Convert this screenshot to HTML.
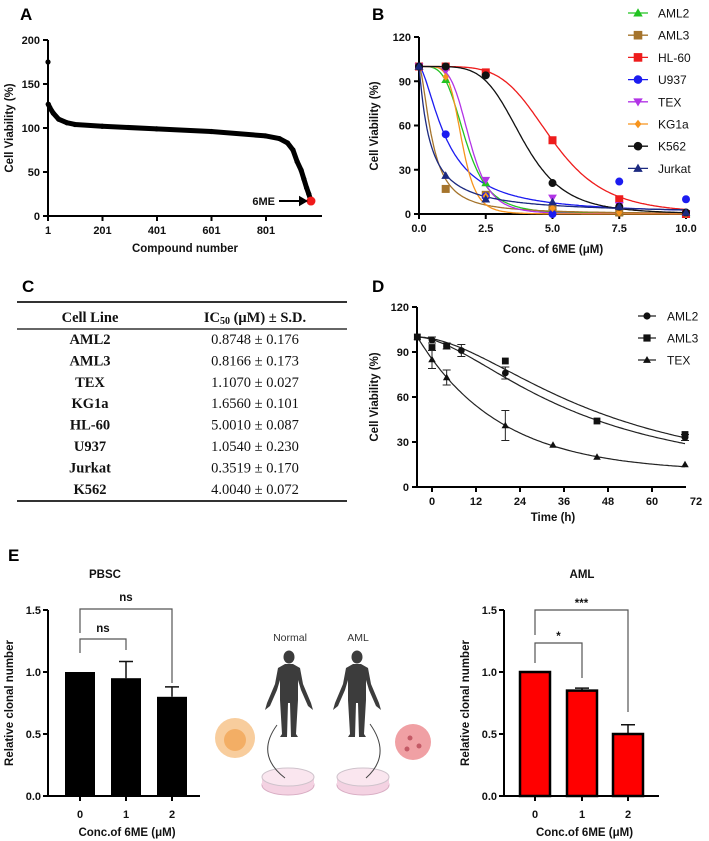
<!DOCTYPE html>
<html><head><meta charset="utf-8"><style>
html,body{margin:0;padding:0;background:#fff;}
svg{display:block;font-family:"Liberation Sans",Arial,sans-serif;}
.tk{font-size:11px;font-weight:bold;fill:#111;}
.ti{font-size:11.5px;font-weight:bold;fill:#111;}
.pl{font-size:17px;font-weight:bold;fill:#000;}
.tb{font-family:"Liberation Serif",serif;font-size:14.5px;fill:#111;}
.lg{font-size:12px;fill:#111;}
</style></head><body>
<svg id="fig" width="709" height="841" viewBox="0 0 709 841" xmlns="http://www.w3.org/2000/svg">
<g id="pA"></g>
<g id="pB"></g>
<g id="pC">
<text class="pl" x="22" y="292">C</text>
<line x1="17" y1="302" x2="347" y2="302" stroke="#333" stroke-width="2"/>
<line x1="17" y1="329" x2="347" y2="329" stroke="#333" stroke-width="1.5"/>
<line x1="17" y1="501" x2="347" y2="501" stroke="#333" stroke-width="2"/>
<text class="tb" x="90" y="322" text-anchor="middle" font-weight="bold" font-size="16">Cell Line</text>
<text class="tb" x="255" y="322" text-anchor="middle" font-weight="bold" font-size="16">IC<tspan font-size="10" dy="2">50</tspan><tspan dy="-2"> (μM) ± S.D.</tspan></text>
</g>
<g id="pD"></g>
<g id="pE"></g>
</svg>
<script>
// ---------- Panel A data ----------
const aIdx = [1,2,8,20,40,70,100,200,400,600,800,850,880,900,915,930,940,950,958,963];
const aVal = [175,127,123,117,110,106,104,102,99,96,91,88,83,75,62,52,42,32,25,20];
const aHitIdx = [966];
const aHitVal = [17];
const aYTicks = [0,50,100,150,200];
const aXTicks = [1,201,401,601,801];
// ---------- Panel B data ----------
const bNames = ["AML2","AML3","HL-60","U937","TEX","KG1a","K562","Jurkat"];
const bColors = ["#22c322","#a5742c","#ee1c1c","#1c1cf0","#b234e6","#f7941d","#111111","#1c2a80"];
const bShapes = ["tri","sq","sq","circ","dtri","dia","circ","tri"];
const bConc = [0,1,2.5,5,7.5,10];
const bAML2 = [100,91,21,5,1,0];
const bAML3 = [100,17,13,4,1,0];
const bHL60 = [100,100,96,50,10,0];
const bU937 = [100,54,12,0,22,10];
const bTEX = [100,97,23,11,6,0];
const bKG1a = [100,93,12,4,1,0];
const bK562 = [100,100,94,21,5,1];
const bJurkat = [100,26,10,8,5,1];
const bIC50fit = [1.75,0.5,5.0,1.05,1.9,1.6,3.9,0.4];
const bHill = [4,1.7,5,1.6,5,6,5,1.1];
const bYTicks = [0,30,60,90,120];
const bXTicks = [0,2.5,5,7.5,10];
// ---------- Panel C data ----------
const cLines = ["AML2","AML3","TEX","KG1a","HL-60","U937","Jurkat","K562"];
const cIC50 = ["0.8748","0.8166","1.1070","1.6560","5.0010","1.0540","0.3519","4.0040"];
const cSD = ["0.176","0.173","0.027","0.101","0.087","0.230","0.170","0.072"];
// ---------- Panel D data ----------
const dNames = ["AML2","AML3","TEX"];
const dTime = [-4,0,4,8,20,33,45,69];
const dAML2 = [100,98,94,91,76,null,null,33];
const dAML3 = [100,93,94,null,84,null,44,35];
const dTEX = [100,85,73,null,41,28,20,15];
const dErr2 = [0,2,2,4,4,0,0,2];
const dErrT = [0,6,5,0,10,0,0,0];
const dT50 = [43,49,null];
const dHill = [1.7,1.8,null];
const dPlateauTEX = [10];
const dRateTEX = [0.0444];
const dYTicks = [0,30,60,90,120];
const dXTicks = [0,12,24,36,48,60,72];
// ---------- Panel E data ----------
const eCats = ["0","1","2"];
const ePBSC = [1.0,0.95,0.80];
const ePBSCerr = [0,0.135,0.08];
const eAML = [1.0,0.85,0.50];
const eAMLerr = [0,0.02,0.075];
const eYTicks = ["0.0","0.5","1.0","1.5"];

const NS="http://www.w3.org/2000/svg";
function mk(parent, tag, attrs, txt){
  const e=document.createElementNS(NS,tag);
  for(const k in attrs) e.setAttribute(k,attrs[k]);
  if(txt!==undefined) e.textContent=txt;
  parent.appendChild(e); return e;
}

// ================= Panel A =================
(function(){
  const g=document.getElementById('pA');
  const x0=48,y0=216,xPer=54.5/200,yPer=176/200;
  const sx=v=>x0+(v-1)*xPer, sy=v=>y0-v*yPer;
  let t=mk(g,'text',{class:'pl',x:20,y:20},'A');
   
  let ax=mk(g,'path',{d:`M${x0},${sy(200)} V${y0} H322`,stroke:'#000','stroke-width':2,fill:'none'});
   
  aYTicks.forEach(v=>{mk(g,'line',{x1:x0-5,x2:x0,y1:sy(v),y2:sy(v),stroke:'#000','stroke-width':2});
    const l=mk(g,'text',{class:'tk',x:x0-8,y:sy(v)+4,'text-anchor':'end'},v);
     });
  aXTicks.forEach(v=>{mk(g,'line',{x1:sx(v),x2:sx(v),y1:y0,y2:y0+5,stroke:'#000','stroke-width':2});
    const l=mk(g,'text',{class:'tk',x:sx(v),y:y0+18,'text-anchor':'middle'},v);
     });
  let xt=mk(g,'text',{class:'ti',x:185,y:252,'text-anchor':'middle'},'Compound number');
   
  let yt=mk(g,'text',{class:'ti',transform:'translate(13,128) rotate(-90)','text-anchor':'middle'},'Cell Viability (%)');
   
  let pts=aIdx.slice(1).map((v,i)=>`${sx(v)},${sy(aVal[i+1])}`).join(' ');
  let pl=mk(g,'polyline',{points:pts,fill:'none',stroke:'#000','stroke-width':5,'stroke-linejoin':'round','stroke-linecap':'round'});
   
  aIdx.forEach((v,i)=>{const c=mk(g,'circle',{cx:sx(v),cy:sy(aVal[i]),r:2.6,fill:'#000'});
     });
  let hit=mk(g,'circle',{cx:sx(aHitIdx[0]),cy:sy(aHitVal[0]),r:4.5,fill:'#f01a1a'});
   
  let ar=mk(g,'path',{d:`M279,${sy(aHitVal[0])} H300 M300,${sy(aHitVal[0])-3.5} L306,${sy(aHitVal[0])} L300,${sy(aHitVal[0])+3.5} Z`,stroke:'#000','stroke-width':2,fill:'#000'});
   
  let al=mk(g,'text',{class:'tk',x:275,y:sy(aHitVal[0])+4,'text-anchor':'end'},'6ME');
   
})();

function marker(g,shape,x,y,s,col){
  let e;
  if(shape==='sq') e=mk(g,'rect',{x:x-s,y:y-s,width:2*s,height:2*s,fill:col});
  else if(shape==='circ') e=mk(g,'circle',{cx:x,cy:y,r:s,fill:col});
  else if(shape==='tri') e=mk(g,'path',{d:`M${x},${y-s*1.1} L${x+s*1.1},${y+s*0.8} L${x-s*1.1},${y+s*0.8}Z`,fill:col});
  else if(shape==='dtri') e=mk(g,'path',{d:`M${x},${y+s*1.1} L${x+s*1.1},${y-s*0.8} L${x-s*1.1},${y-s*0.8}Z`,fill:col});
  else e=mk(g,'path',{d:`M${x},${y-s} L${x+s*0.8},${y} L${x},${y+s} L${x-s*0.8},${y}Z`,fill:col});
  return e;
}

// ================= Panel B =================
(function(){
  const g=document.getElementById('pB');
  const x0=419,y0=214,xPer=26.7,yPer=177/120;
  const sx=v=>x0+v*xPer, sy=v=>y0-v*yPer;
  let t=mk(g,'text',{class:'pl',x:372,y:20},'B');
   
  let ax=mk(g,'path',{d:`M${x0},${sy(120)} V${y0} H${sx(10)+2}`,stroke:'#000','stroke-width':2,fill:'none'});
   
  bYTicks.forEach(v=>{mk(g,'line',{x1:x0-5,x2:x0,y1:sy(v),y2:sy(v),stroke:'#000','stroke-width':2});
    const l=mk(g,'text',{class:'tk',x:x0-8,y:sy(v)+4,'text-anchor':'end'},v);
     });
  bXTicks.forEach(v=>{mk(g,'line',{x1:sx(v),x2:sx(v),y1:y0,y2:y0+5,stroke:'#000','stroke-width':2});
    const l=mk(g,'text',{class:'tk',x:sx(v),y:y0+18,'text-anchor':'middle'},v.toFixed(1));
     });
  let xt=mk(g,'text',{class:'ti',x:553,y:253,'text-anchor':'middle'},'Conc. of 6ME (μM)');
   
  let yt=mk(g,'text',{class:'ti',transform:'translate(378,126) rotate(-90)','text-anchor':'middle'},'Cell Viability (%)');
   
  const series=[bAML2,bAML3,bHL60,bU937,bTEX,bKG1a,bK562,bJurkat];
  series.forEach((vals,si)=>{
    let d='';
    for(let i=0;i<=200;i++){const c=10*i/200; const v=100/(1+Math.pow(c/bIC50fit[si],bHill[si]));
      d+=(i?'L':'M')+sx(c).toFixed(1)+','+sy(v).toFixed(1);}
    const p=mk(g,'path',{d:d,fill:'none',stroke:bColors[si],'stroke-width':1.3});
    
    
  });
  series.forEach((vals,si)=>{
    vals.forEach((v,i)=>{
      const m=marker(g,bShapes[si],sx(bConc[i]),sy(v),4,bColors[si]);
      
      
    });
  });
  bNames.forEach((n,i)=>{
    const y=13+i*22.2;
    const lg=mk(g,'g',{});
    
    
    mk(lg,'line',{x1:628,x2:648,y1:y,y2:y,stroke:bColors[i],'stroke-width':1.3});
    marker(lg,bShapes[i],638,y,4.3,bColors[i]);
    mk(lg,'text',{class:'lg',x:658,y:y+4.5},n);
  });
})();

// ================= Panel C rows =================
(function(){
  const g=document.getElementById('pC');
  cLines.forEach((n,i)=>{
    const y=344+i*21.4;
    const r=mk(g,'g',{});
    
    
    mk(r,'text',{class:'tb',x:90,y:y,'text-anchor':'middle','font-weight':'bold'},n);
    mk(r,'text',{class:'tb',x:255,y:y,'text-anchor':'middle'},cIC50[i]+' ± '+cSD[i]);
  });
})();

// ================= Panel D =================
(function(){
  const g=document.getElementById('pD');
  const x0=417,y0=487,xPer=44/12,yPer=180/120,tz=432;
  const sx=v=>tz+v*xPer, sy=v=>y0-v*yPer;
  let t=mk(g,'text',{class:'pl',x:372,y:292},'D');
   
  let ax=mk(g,'path',{d:`M${x0},${sy(120)} V${y0} H${sx(69)+1}`,stroke:'#000','stroke-width':2,fill:'none'});
   
  dYTicks.forEach(v=>{mk(g,'line',{x1:x0-5,x2:x0,y1:sy(v),y2:sy(v),stroke:'#000','stroke-width':2});
    const l=mk(g,'text',{class:'tk',x:x0-8,y:sy(v)+4,'text-anchor':'end'},v);
     });
  dXTicks.forEach(v=>{ if(v<=69) mk(g,'line',{x1:sx(v),x2:sx(v),y1:y0,y2:y0+5,stroke:'#000','stroke-width':2});
    const l=mk(g,'text',{class:'tk',x:sx(v),y:y0+18,'text-anchor':'middle'},v);
     });
  let xt=mk(g,'text',{class:'ti',x:553,y:521,'text-anchor':'middle'},'Time (h)');
   
  let yt=mk(g,'text',{class:'ti',transform:'translate(378,397) rotate(-90)','text-anchor':'middle'},'Cell Viability (%)');
   
  const fits=[
    tt=>100/(1+Math.pow((tt+4)/dT50[0],dHill[0])),
    tt=>100/(1+Math.pow((tt+4)/dT50[1],dHill[1])),
    tt=>dPlateauTEX[0]+(100-dPlateauTEX[0])*Math.exp(-dRateTEX[0]*(tt+4))
  ];
  fits.forEach((f,si)=>{let d='';
    for(let i=0;i<=150;i++){const tt=-4+73*i/150; d+=(i?'L':'M')+sx(tt).toFixed(1)+','+sy(f(tt)).toFixed(1);}
    const p=mk(g,'path',{d:d,fill:'none',stroke:'#222','stroke-width':1.2});
     });
  const ser=[dAML2,dAML3,dTEX], shp=['circ','sq','tri'], errs=[dErr2,null,dErrT];
  ser.forEach((vals,si)=>vals.forEach((v,i)=>{ if(v===null) return;
    const e=errs[si]?errs[si][i]:0;
    if(e>0){mk(g,'path',{d:`M${sx(dTime[i])},${sy(v-e)}V${sy(v+e)} M${sx(dTime[i])-4},${sy(v-e)}h8 M${sx(dTime[i])-4},${sy(v+e)}h8`,stroke:'#222','stroke-width':1,fill:'none'});}
    const m=marker(g,shp[si],sx(dTime[i]),sy(v),3.4,'#111');
     }));
  dNames.forEach((n,i)=>{const y=316+i*22;
    const lg=mk(g,'g',{});
    
    
    mk(lg,'line',{x1:638,x2:656,y1:y,y2:y,stroke:'#222','stroke-width':1.3});
    marker(lg,shp[i],647,y,3.6,'#111');
    mk(lg,'text',{class:'lg',x:667,y:y+4.5},n);});
})();

// ================= Panel E =================
(function(){
  const g=document.getElementById('pE');
  let t=mk(g,'text',{class:'pl',x:8,y:561},'E');
   
  function barChart(cfg){
    const {x0,xEnd,centers,vals,errs,fill,title,titleX,ytx,name}=cfg;
    const y0=796,yPer=(796-610)/1.5, sy=v=>y0-v*yPer;
    const tt=mk(g,'text',{class:'ti','font-size':'15',x:titleX,y:578,'text-anchor':'middle'},title);
     
    vals.forEach((v,i)=>{
      if(errs[i]>0) mk(g,'path',{d:`M${centers[i]},${sy(v)}V${sy(v+errs[i])} M${centers[i]-7},${sy(v+errs[i])}h14`,stroke:'#111','stroke-width':1.5,fill:'none'});
      const b=mk(g,'rect',{x:centers[i]-15,y:sy(v),width:30,height:y0-sy(v),fill:fill,stroke:'#000','stroke-width':fill==='#000'?0:2.5});
       
      const l=mk(g,'text',{class:'tk','font-size':'12',x:centers[i],y:y0+22,'text-anchor':'middle'},eCats[i]);
       
      mk(g,'line',{x1:centers[i],x2:centers[i],y1:y0,y2:y0+5,stroke:'#000','stroke-width':2});
    });
    const ax=mk(g,'path',{d:`M${x0},${sy(1.5)}V${y0}H${xEnd}`,stroke:'#000','stroke-width':2,fill:'none'});
     
    eYTicks.forEach(v=>{const n=parseFloat(v);
      mk(g,'line',{x1:x0-5,x2:x0,y1:sy(n),y2:sy(n),stroke:'#000','stroke-width':2});
      const l=mk(g,'text',{class:'tk','font-size':'12',x:x0-7,y:sy(n)+4,'text-anchor':'end'},v);
       });
    const xt=mk(g,'text',{class:'ti','font-size':'12.5',x:(x0+xEnd)/2+3,y:836,'text-anchor':'middle'},'Conc.of 6ME (μM)');
     
    const yt=mk(g,'text',{class:'ti','font-size':'12.5',transform:`translate(${ytx},703) rotate(-90)`,'text-anchor':'middle'},'Relative clonal number');
     
    return sy;
  }
  barChart({x0:48,xEnd:200,centers:[80,126,172],vals:ePBSC,errs:ePBSCerr,fill:'#000',title:'PBSC',titleX:105,ytx:13,name:'pbsc'});
  barChart({x0:504,xEnd:659,centers:[535,582,628],vals:eAML,errs:eAMLerr,fill:'#f00',title:'AML',titleX:582,ytx:469,name:'aml'});
  function bracket(x1,x2,y,yl,yr,label,ly,name,fs){
    const p=mk(g,'path',{d:`M${x1},${yl}V${y}H${x2}V${yr}`,stroke:'#555','stroke-width':1.2,fill:'none'});
     
    const t=mk(g,'text',{class:'ti',x:(x1+x2)/2,y:ly,'text-anchor':'middle','font-size':fs},label);
     
  }
  bracket(80,172,609,633,683,'ns',601,'pbsc-bracket-0-2',12.5);
  bracket(80,126,639,653,650,'ns',632,'pbsc-bracket-0-1',12.5);
  bracket(535,628,610,635,712,'***',607,'aml-bracket-0-2',13);
  bracket(535,582,643,663,678,'*',640,'aml-bracket-0-1',13);
  const il=mk(g,'g',{});
   
  mk(il,'text',{x:290,y:641,'text-anchor':'middle','font-size':'10.5',fill:'#333'},'Normal');
  mk(il,'text',{x:358,y:641,'text-anchor':'middle','font-size':'10.5',fill:'#333'},'AML');
  function person(cx,nm){
    const pg=mk(il,'g',{});
     
    mk(pg,'ellipse',{cx:cx,cy:657,rx:5.5,ry:6.5,fill:'#3c3c3c'});
    mk(pg,'path',{fill:'#3c3c3c',d:
      `M${cx-4},664 L${cx+4},664 L${cx+11},668 L${cx+14},684 L${cx+22},703 L${cx+24},710 L${cx+19},706 L${cx+12},690 L${cx+9},680 L${cx+9},700 L${cx+7},734 L${cx+9},737 L${cx+2},737 L${cx+1},703 L${cx-1},703 L${cx-2},737 L${cx-9},737 L${cx-7},734 L${cx-9},700 L${cx-9},680 L${cx-12},690 L${cx-19},706 L${cx-24},710 L${cx-22},703 L${cx-14},684 L${cx-11},668 Z`});
  }
  person(289,'normal-person-icon'); person(357,'aml-person-icon');
  function dish(cx,nm){
    const d=mk(il,'g',{});
     
    mk(d,'ellipse',{cx:cx,cy:785,rx:26,ry:10,fill:'#f4d2e2',stroke:'#d9aec4','stroke-width':1});
    mk(d,'rect',{x:cx-26,y:777,width:52,height:8,fill:'#f4d2e2'});
    mk(d,'ellipse',{cx:cx,cy:777,rx:26,ry:9,fill:'#fae6ef',stroke:'#cfc3cc','stroke-width':1});
  }
  dish(288,'normal-culture-dish'); dish(363,'aml-culture-dish');
  const a1=mk(il,'path',{d:'M277,725 Q255,755 285,778',stroke:'#444','stroke-width':1,fill:'none'});
   
  const a2=mk(il,'path',{d:'M370,724 Q392,755 366,778',stroke:'#444','stroke-width':1,fill:'none'});
   
  const c1=mk(il,'circle',{cx:235,cy:738,r:20,fill:'#f7c48c',opacity:0.85});
   
  mk(il,'circle',{cx:235,cy:740,r:11,fill:'#f09a40',opacity:0.6});
  const c2=mk(il,'circle',{cx:413,cy:742,r:18,fill:'#f0a0a4'});
   
  mk(il,'circle',{cx:410,cy:738,r:2.5,fill:'#c45a66'});
  mk(il,'circle',{cx:419,cy:746,r:2.5,fill:'#c45a66'});
  mk(il,'circle',{cx:407,cy:749,r:2.5,fill:'#c45a66'});
})();
</script>
</body></html>
